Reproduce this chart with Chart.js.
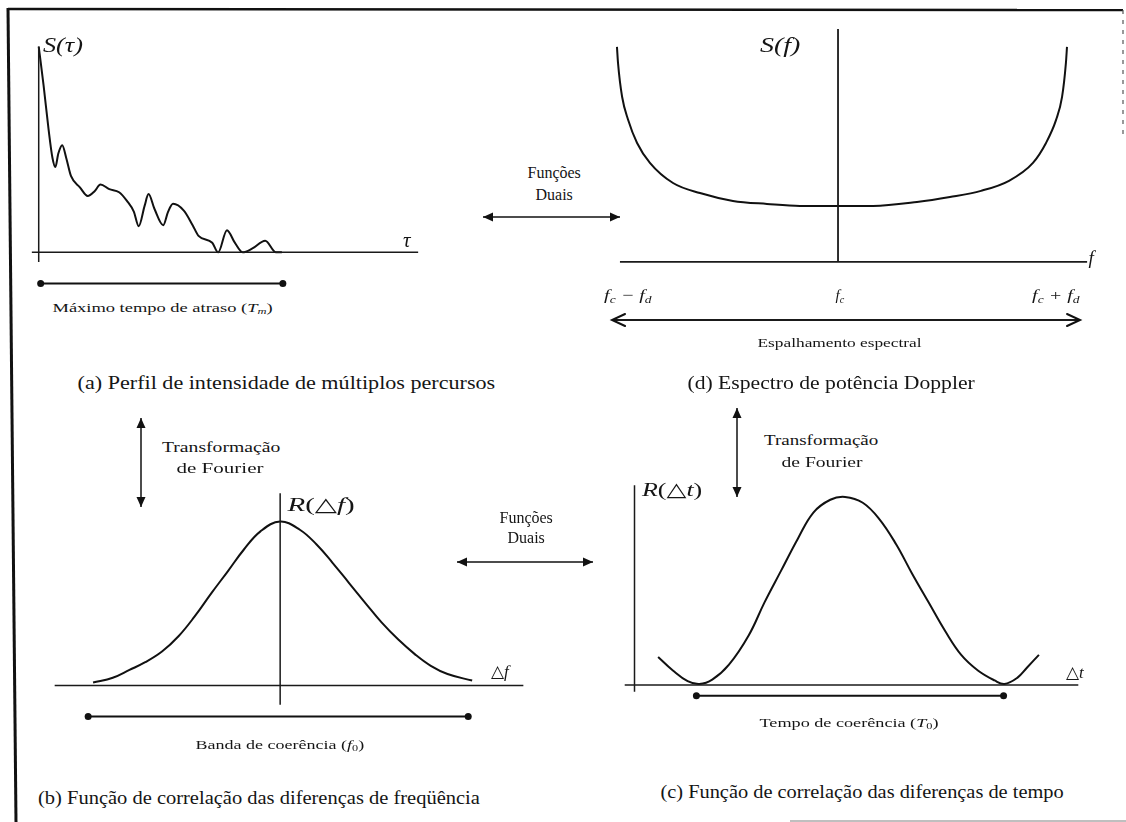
<!DOCTYPE html>
<html><head><meta charset="utf-8">
<script src="https://cdn.jsdelivr.net/npm/chart.js@4.4.1/dist/chart.umd.min.js"></script>
<style>
html,body{margin:0;padding:0;background:#fff;}
#root{position:relative;width:1126px;height:822px;overflow:hidden;background:#fff;}
canvas.cv{position:absolute;}
.lbl{position:absolute;white-space:nowrap;font-family:"Liberation Serif","Times New Roman","DejaVu Serif",serif;color:#151515;line-height:1.15;transform-origin:center center;}
.lbl sub{font-size:0.68em;vertical-align:-0.25em;line-height:0;}
svg{position:absolute;left:0;top:0;}
</style></head><body><div id="root"></div>
<script>
// ---------- (a) Perfil de intensidade de múltiplos percursos ----------
const tauX = [0,0.2,0.4,0.56,0.68,0.8,0.96,1.12,1.32,1.68,2.0,2.28,2.52,2.88,3.28,3.6,3.88,4.08,4.32,4.48,4.72,5.08,5.28,5.48,5.92,6.28,6.52,7.08,7.32,7.68,8.0,8.32,8.72,9.24,9.68,9.92];
const tauS = [1.0,0.81,0.60,0.46,0.415,0.48,0.52,0.46,0.37,0.316,0.274,0.297,0.33,0.307,0.292,0.25,0.198,0.127,0.226,0.283,0.212,0.132,0.198,0.236,0.203,0.132,0.08,0.047,0.0,0.108,0.047,0.0,0.019,0.057,0.0,0.0];
const tauMaxDelay = [0.08, 9.96];   // Máximo tempo de atraso (T_m)

// ---------- (d) Espectro de potência Doppler ----------
const dopX = [-1.033,-1.028,-1.009,-0.981,-0.939,-0.879,-0.771,-0.645,-0.491,-0.332,-0.178,0,0.164,0.369,0.523,0.668,0.799,0.911,0.972,1.019,1.047,1.065,1.07];
const dopS = [3.84,3.55,2.95,2.54,2.125,1.77,1.41,1.23,1.09,1.036,1.0,1.0,1.0,1.07,1.16,1.27,1.45,1.77,2.125,2.536,2.946,3.554,3.84];
const dopSpread = [-1.056, 1.131];  // Espalhamento espectral
const dopTicks = ['f<sub>c</sub> − f<sub>d</sub>', 'f<sub>c</sub>', 'f<sub>c</sub> + f<sub>d</sub>'];

// ---------- (b) Função de correlação das diferenças de freqüência ----------
const dfX = [-3.8,-3.4,-3.06,-2.74,-2.4,-2.06,-1.74,-1.4,-1.06,-0.74,-0.4,0,0.4,0.74,1.06,1.4,1.74,2.06,2.4,2.74,3.06,3.4,3.9];
const dfR = [0.018,0.047,0.095,0.142,0.207,0.302,0.42,0.562,0.698,0.828,0.94,1.0,0.95,0.86,0.75,0.625,0.5,0.385,0.28,0.19,0.12,0.07,0.03];
const dfBand = [-3.9, 3.82];         // Banda de coerência (f0)

// ---------- (c) Função de correlação das diferenças de tempo ----------
const dtX = [-1.355,-0.871,-0.387,0,0.419,0.968,1.613,2.129,2.677,3.226,3.742,4.29,4.774,5.355,5.903,6.452,6.968,7.516,8.065,8.581,9.129,9.677,10.0,10.419,10.742,11.129];
const dtR = [0.149,0.077,0.02,0.005,0.028,0.108,0.263,0.438,0.608,0.778,0.918,0.985,1.0,0.969,0.881,0.747,0.593,0.438,0.284,0.16,0.077,0.024,0.005,0.038,0.093,0.16];
const dtCoh = [-0.1, 9.97];          // Tempo de coerência (T0)

const root = document.getElementById('root');
const INK = '#111';

function pts(xs, ys){ return xs.map((x,i)=>({x:x, y:ys[i]})); }
function seg(x0,y0,x1,y1){ return [{x:x0,y:y0},{x:x1,y:y1}]; }

const arrowPlugin = {
  id:'arrowheads',
  afterDatasetsDraw(chart){
    const ctx = chart.ctx;
    chart.data.datasets.forEach((ds,i)=>{
      if(!ds.arrowStyle) return;
      const el = chart.getDatasetMeta(i).data;
      const a = el[0], b = el[el.length-1];
      const head = (tip, from) => {
        const ang = Math.atan2(tip.y-from.y, tip.x-from.x);
        const L = 13, W = 6;
        ctx.save();
        ctx.strokeStyle = INK; ctx.lineWidth = 2; ctx.lineCap='round';
        ctx.beginPath();
        ctx.moveTo(tip.x - L*Math.cos(ang) - W*Math.sin(ang), tip.y - L*Math.sin(ang) + W*Math.cos(ang));
        ctx.lineTo(tip.x, tip.y);
        ctx.lineTo(tip.x - L*Math.cos(ang) + W*Math.sin(ang), tip.y - L*Math.sin(ang) - W*Math.cos(ang));
        ctx.stroke();
        ctx.restore();
      };
      head(b, a); head(a, b);
    });
  }
};

function makeChart(rect, xr, yr, datasets){
  const c = document.createElement('canvas');
  c.className='cv'; c.width=rect[2]; c.height=rect[3];
  c.style.left=rect[0]+'px'; c.style.top=rect[1]+'px';
  c.style.width=rect[2]+'px'; c.style.height=rect[3]+'px';
  root.appendChild(c);
  return new Chart(c, {
    type:'line',
    data:{datasets},
    options:{
      responsive:false, animation:false, events:[], devicePixelRatio:1,
      layout:{padding:0},
      plugins:{legend:{display:false}, tooltip:{enabled:false}, title:{display:false}},
      scales:{
        x:{type:'linear', min:xr[0], max:xr[1], display:false},
        y:{type:'linear', min:yr[0], max:yr[1], display:false}
      }
    },
    plugins:[arrowPlugin]
  });
}
function curve(data, mono){ return {data, borderColor:INK, borderWidth:2, tension:0.4, cubicInterpolationMode: mono?'monotone':'default', pointRadius:0, fill:false, clip:false}; }
function axis(data, w){ return {data, borderColor:'#1a1a1a', borderWidth:w||1.5, tension:0, pointRadius:0, fill:false, clip:false}; }
function bar(data){ return {data, borderColor:INK, borderWidth:2, tension:0, pointRadius:3.5, pointBackgroundColor:INK, pointBorderWidth:0, fill:false, clip:false}; }

// (a)
makeChart([20,30,410,270], [-0.6,15.8], [-0.212,1.061], [
  axis(seg(0,1.0,0,-0.047)),
  axis(seg(-0.28,0,15.48,0)),
  curve(pts(tauX,tauS), true),
  bar(seg(tauMaxDelay[0],-0.151,tauMaxDelay[1],-0.151))
]);
// (d)
makeChart([590,20,520,320], [-1.159,1.271], [-1.393,4.32], [
  axis(seg(0,4.16,0,0), 1.8),
  axis(seg(-1.019,0,1.164,0), 1.8),
  curve(pts(dopX,dopS), true),
  Object.assign(axis(seg(dopSpread[0],-1.036,dopSpread[1],-1.036), 2), {arrowStyle:'open'})
]);
// (b)
makeChart([30,470,520,270], [-5,5.4], [-0.308,1.29], [
  axis(seg(0,1.172,0,-0.118)),
  axis(seg(-4.58,0,4.94,0)),
  curve(pts(dfX,dfR)),
  bar(seg(dfBand[0],-0.189,dfBand[1],-0.189))
]);
// (c)
makeChart([600,460,500,260], [-3.129,13.0], [-0.165,1.175], [
  axis(seg(-2.129,1.062,-2.129,-0.036)),
  axis(seg(-2.45,0,12.42,0)),
  curve(pts(dtX,dtR)),
  bar(seg(dtCoh[0],-0.057,dtCoh[1],-0.057))
]);

// ---------- labels ----------
function label(html, cx, cy, size, targetW, italic){
  const d=document.createElement('div'); d.className='lbl'; d.innerHTML=html;
  d.style.fontSize=size+'px'; if(italic) d.style.fontStyle='italic';
  root.appendChild(d);
  const w=d.offsetWidth, h=d.offsetHeight;
  const k = targetW ? targetW/w : 1;
  d.style.left=(cx-w/2)+'px'; d.style.top=(cy-h/2)+'px';
  d.style.transform='scaleX('+k.toFixed(3)+')';
}
// (a)
label('S(τ)', 63, 45, 21, 40, true);
label('τ', 407, 240, 21, 0, true);
label('Máximo tempo de atraso (<i>T<sub>m</sub></i>)', 162, 308, 13, 220);
label('(a) Perfil de intensidade de múltiplos percursos', 286, 383, 19, 418);
// (d)
label('S(f)', 780, 45, 21, 40, true);
label('f', 1091, 258, 19, 0, true);
label(dopTicks[0], 628, 295, 15, 48, true);
label(dopTicks[1], 840, 295, 15, 0, true);
label(dopTicks[2], 1056, 295, 15, 48, true);
label('Espalhamento espectral', 839, 343, 13, 164);
label('(d) Espectro de potência Doppler', 831, 383, 19, 287);
// middle arrows text
label('Funções', 554, 173, 16, 0);
label('Duais', 554, 195, 16, 0);
label('Funções', 526, 518, 16, 0);
label('Duais', 526, 538, 16, 0);
label('Transformação', 221, 447, 15, 118);
label('de Fourier', 220, 468, 15, 87);
label('Transformação', 821, 440, 15, 114);
label('de Fourier', 822, 462, 15, 81);
// (b)
label('<i>R</i>(△<i>f</i>)', 321, 505, 19, 67);
label('△<i>f</i>', 500, 672, 17, 0);
label('Banda de coerência (<i>f</i><sub>0</sub>)', 280, 745, 13, 169);
label('(b) Função de correlação das diferenças de freqüência', 259, 798, 19, 442);
// (c)
label('<i>R</i>(△<i>t</i>)', 672, 490, 19, 60);
label('△<i>t</i>', 1075, 673, 17, 0);
label('Tempo de coerência (<i>T</i><sub>0</sub>)', 849, 723, 13, 179);
label('(c) Função de correlação das diferenças de tempo', 862, 792, 19, 403);

// ---------- frame and connecting arrows (decoration) ----------
const NS='http://www.w3.org/2000/svg';
const svg=document.createElementNS(NS,'svg'); svg.setAttribute('width',1126); svg.setAttribute('height',822);
root.appendChild(svg);
function ln(x1,y1,x2,y2,w,col,dash){ const l=document.createElementNS(NS,'line');
  l.setAttribute('x1',x1);l.setAttribute('y1',y1);l.setAttribute('x2',x2);l.setAttribute('y2',y2);
  l.setAttribute('stroke',col||INK);l.setAttribute('stroke-width',w); if(dash) l.setAttribute('stroke-dasharray',dash); svg.appendChild(l);}
function tri(tx,ty,ang){ const L=10,W=4.5; const p=document.createElementNS(NS,'polygon');
  const c=Math.cos(ang), s=Math.sin(ang);
  const pts=[[tx,ty],[tx-L*c-W*s,ty-L*s+W*c],[tx-L*c+W*s,ty-L*s-W*c]];
  p.setAttribute('points',pts.map(q=>q.join(',')).join(' ')); p.setAttribute('fill',INK); svg.appendChild(p);}
function dbl(x1,y1,x2,y2){ ln(x1,y1,x2,y2,1.5); const a=Math.atan2(y2-y1,x2-x1); tri(x2,y2,a); tri(x1,y1,a+Math.PI); }
// frame
ln(8,9,1123,10,2.5);
ln(8,8,16,822,3);
ln(1123,10,1123,135,1.2,'#555','4,6');
ln(790,821,1126,821,1.5,'#aaa');
// arrows
dbl(483,217,620,217);
dbl(457,562,593,562);
dbl(141,418,141,507);
dbl(737,408,737,497);
</script></body></html>
